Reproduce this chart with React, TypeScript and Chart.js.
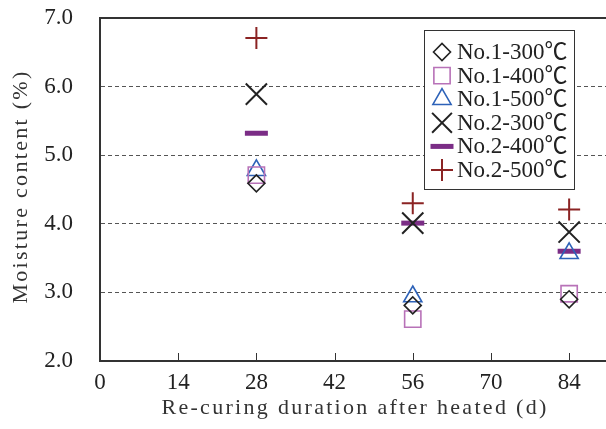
import React, { useEffect, useRef } from "react";
import { Chart, registerables } from "chart.js";
import { drawPoint } from "chart.js/helpers";

Chart.register(...registerables);

const days = [28, 56, 84];
const xTicks = [0, 14, 28, 42, 56, 70, 84];
const yTicks = [2, 3, 4, 5, 6, 7];

const no1_300 = [4.59, 2.81, 2.9];
const no1_400 = [4.71, 2.61, 2.98];
const no1_500 = [4.78, 2.94, 3.57];
const no2_300 = [5.89, 4.01, 3.88];
const no2_400 = [5.32, 4.01, 3.6];
const no2_500 = [6.71, 4.3, 4.21];

const xTitle = "Re-curing duration after heated (d)";
const yTitle = "Moisture content (%)";

const seriesNames = [
  "No.1-300℃",
  "No.1-400℃",
  "No.1-500℃",
  "No.2-300℃",
  "No.2-400℃",
  "No.2-500℃",
];
const seriesValues = [no1_300, no1_400, no1_500, no2_300, no2_400, no2_500];
const seriesStyles = [
  { pointStyle: "rectRot", radius: 8.5, color: "#222222", width: 1.6 },
  { pointStyle: "rect", radius: 11.5, color: "#b872b8", width: 1.6 },
  { pointStyle: "triangle", radius: 10.5, color: "#2d62b8", width: 1.6 },
  { pointStyle: "crossRot", radius: 15, color: "#222222", width: 2 },
  { pointStyle: "line", radius: 11.5, color: "#7b2d86", width: 5 },
  { pointStyle: "cross", radius: 11, color: "#8b2323", width: 2 },
];

const serif = "'Liberation Serif', 'Noto Sans CJK JP', serif";

const zeroPad = (s: any) => {
  s.paddingTop = 0;
  s.paddingBottom = 0;
  s.paddingLeft = 0;
  s.paddingRight = 0;
};

const decorPlugin = {
  id: "decor",
  beforeDatasetsDraw(chart: any) {
    const { ctx, chartArea } = chart;
    const xs = chart.scales.x;
    ctx.save();
    ctx.strokeStyle = "#333333";
    ctx.lineWidth = 1;
    xTicks.forEach((t) => {
      if (t === 0) return;
      const px = Math.round(xs.getPixelForValue(t)) + 0.5;
      ctx.beginPath();
      ctx.moveTo(px, chartArea.bottom);
      ctx.lineTo(px, chartArea.bottom - 8);
      ctx.stroke();
    });
    ctx.lineWidth = 2;
    ctx.beginPath();
    ctx.moveTo(chartArea.left - 1, chartArea.top);
    ctx.lineTo(chartArea.right, chartArea.top);
    ctx.stroke();
    ctx.restore();
  },
  afterDraw(chart: any) {
    const { ctx, chartArea } = chart;
    // axis titles
    ctx.save();
    ctx.fillStyle = "#333333";
    ctx.font = `22px ${serif}`;
    (ctx as any).letterSpacing = "2.3px";
    ctx.textAlign = "center";
    ctx.textBaseline = "middle";
    ctx.fillText(xTitle, (chartArea.left + chartArea.right) / 2 + 2, 408);
    ctx.translate(21, (chartArea.top + chartArea.bottom) / 2 - 3);
    ctx.rotate(-Math.PI / 2);
    ctx.fillText(yTitle, 0, 0);
    ctx.restore();

    // legend
    const bx = 424,
      by = 30,
      bw = 150,
      bh = 159;
    ctx.save();
    ctx.fillStyle = "#ffffff";
    ctx.fillRect(bx, by, bw, bh);
    ctx.strokeStyle = "#333333";
    ctx.lineWidth = 1;
    ctx.strokeRect(bx + 0.5, by + 0.5, bw, bh);
    const rowH = 23.6;
    const y0 = 52;
    ctx.font = `23px ${serif}`;
    ctx.textBaseline = "middle";
    ctx.textAlign = "left";
    seriesNames.forEach((name, i) => {
      const st = seriesStyles[i];
      const cy = y0 + i * rowH;
      ctx.save();
      ctx.strokeStyle = st.color;
      ctx.fillStyle = st.pointStyle === "line" ? st.color : "rgba(0,0,0,0)";
      ctx.lineWidth = st.width;
      drawPoint(
        ctx,
        {
          pointStyle: st.pointStyle,
          rotation: 0,
          radius: st.pointStyle === "crossRot" ? 14 : st.radius,
          borderWidth: st.width,
        } as any,
        442,
        cy
      );
      ctx.restore();
      ctx.fillStyle = "#222222";
      ctx.fillText(name, 457, cy + 1);
    });
    ctx.restore();
  },
};

export default function App() {
  const ref = useRef<HTMLCanvasElement | null>(null);
  useEffect(() => {
    if (!ref.current) return;
    const chart = new Chart(ref.current, {
      type: "scatter",
      data: {
        datasets: seriesNames.map((name, i) => ({
          label: name,
          data: days.map((d, j) => ({ x: d, y: seriesValues[i][j] })),
          pointStyle: seriesStyles[i].pointStyle as any,
          pointRadius: seriesStyles[i].radius,
          pointHoverRadius: seriesStyles[i].radius,
          borderColor: seriesStyles[i].color,
          backgroundColor: "rgba(0,0,0,0)",
          pointBorderWidth: seriesStyles[i].width,
          borderWidth: seriesStyles[i].width,
        })),
      },
      options: {
        animation: false,
        responsive: false,
        layout: { autoPadding: false, padding: { top: 18, right: 0, left: 0, bottom: 0 } },
        plugins: { legend: { display: false }, tooltip: { enabled: false } },
        scales: {
          x: {
            type: "linear",
            min: 0,
            max: 90.6,
            afterFit: (s: any) => {
              s.height = 68;
              zeroPad(s);
            },
            afterBuildTicks: (s: any) => {
              s.ticks = xTicks.map((v) => ({ value: v }));
            },
            ticks: {
              font: { family: serif, size: 23 },
              color: "#222222",
              padding: 8,
              maxRotation: 0,
              autoSkip: false,
            },
            grid: { display: false, drawTicks: false },
            border: { display: true, color: "#333333", width: 2 },
          },
          y: {
            type: "linear",
            min: 2,
            max: 7,
            afterFit: (s: any) => {
              s.width = 100;
              zeroPad(s);
            },
            afterBuildTicks: (s: any) => {
              s.ticks = yTicks.map((v) => ({ value: v }));
            },
            ticks: {
              font: { family: serif, size: 23 },
              color: "#222222",
              padding: 27,
              callback: (v: any) => Number(v).toFixed(1),
            },
            grid: {
              drawTicks: false,
              lineWidth: 1,
              color: (c: any) =>
                c.tick && (c.tick.value === 2 || c.tick.value === 7)
                  ? "rgba(0,0,0,0)"
                  : "#555555",
            },
            border: { display: true, color: "#333333", width: 2, dash: [4, 3] },
          },
        },
      },
      plugins: [decorPlugin],
    });
    return () => chart.destroy();
  }, []);
  return (
    <div style={{ position: "fixed", left: 0, top: 0, width: 606, height: 429, background: "#fff" }}>
      <canvas ref={ref} width={606} height={429} />
    </div>
  );
}
